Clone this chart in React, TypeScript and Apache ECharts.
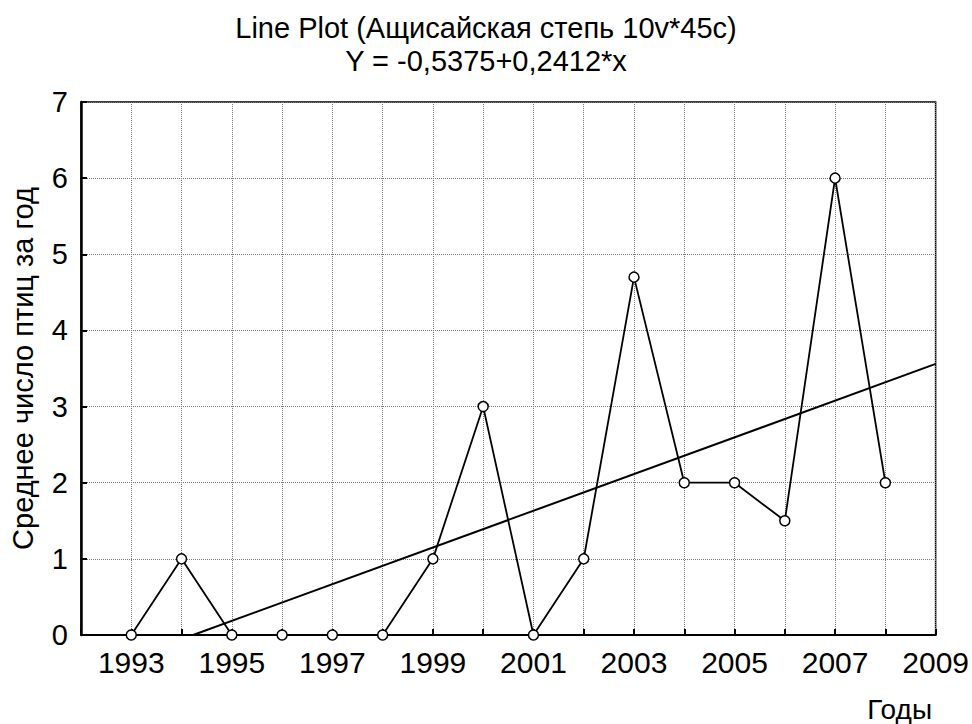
import React, { useEffect, useRef } from "react";
import * as echarts from "echarts";

const years = [1993, 1994, 1995, 1996, 1997, 1998, 1999, 2000, 2001, 2002, 2003, 2004, 2005, 2006, 2007, 2008];
const birds = [0, 1, 0, 0, 0, 0, 1, 3, 0, 1, 4.7, 2, 2, 1.5, 6, 2];
const trendX = [1994.23, 2009];
const trendY = [0, 3.56];
const titleLines = ["Line Plot (Ащисайская степь 10v*45c)", "Y = -0,5375+0,2412*x"];
const yName = "Среднее число птиц за год";
const xName = "Годы";

const FONT = "Liberation Sans";

export default function App() {
  const ref = useRef<HTMLDivElement>(null);
  useEffect(() => {
    document.body.style.margin = "0";
    const chart = echarts.init(ref.current!, null, { renderer: "svg" });
    chart.setOption({
      animation: false,
      backgroundColor: "#ffffff",
      title: [
        {
          text: titleLines.join("\n"),
          left: "center",
          top: 6,
          textStyle: { fontFamily: FONT, fontSize: 29, fontWeight: "normal", color: "#000", lineHeight: 33 },
        },
        {
          text: xName,
          right: 35,
          top: 690,
          textStyle: { fontFamily: FONT, fontSize: 28, fontWeight: "normal", color: "#000" },
        },
      ],
      grid: {
        left: 81,
        right: 35,
        top: 102,
        bottom: 89,
        show: true,
        borderColor: "#000",
        borderWidth: 1.5,
        backgroundColor: "transparent",
      },
      xAxis: {
        type: "value",
        min: 1992,
        max: 2009,
        interval: 1,
        axisLine: { show: true, lineStyle: { color: "#000", width: 2 } },
        axisTick: { show: true, inside: true, length: 6, lineStyle: { color: "#000", width: 2 } },
        splitLine: { show: true, lineStyle: { type: "dotted", color: "#777", width: 1 } },
        axisLabel: {
          margin: 12,
          color: "#000",
          fontFamily: FONT,
          fontSize: 30,
          formatter: (v: number) => (v % 2 === 1 ? String(v) : ""),
        },
      },
      yAxis: {
        type: "value",
        min: 0,
        max: 7,
        interval: 1,
        name: yName,
        nameLocation: "middle",
        nameGap: 44,
        nameTextStyle: { fontFamily: FONT, fontSize: 29, color: "#000" },
        axisLine: { show: true, lineStyle: { color: "#000", width: 2.5 } },
        axisTick: { show: true, inside: true, length: 6, lineStyle: { color: "#000", width: 2 } },
        splitLine: { show: true, lineStyle: { type: "dotted", color: "#777", width: 1 } },
        axisLabel: { margin: 13, color: "#000", fontFamily: FONT, fontSize: 29 },
      },
      series: [
        {
          type: "line",
          data: trendX.map((x, i) => [x, trendY[i]]),
          symbol: "none",
          lineStyle: { color: "#000", width: 2 },
          z: 2,
        },
        {
          type: "line",
          data: years.map((y, i) => [y, birds[i]]),
          symbol: "circle",
          symbolSize: 10,
          itemStyle: { color: "#fff", borderColor: "#000", borderWidth: 1.5 },
          lineStyle: { color: "#000", width: 1.8 },
          z: 3,
        },
      ],
    });
    return () => chart.dispose();
  }, []);
  return <div ref={ref} style={{ width: 972, height: 724 }} />;
}
